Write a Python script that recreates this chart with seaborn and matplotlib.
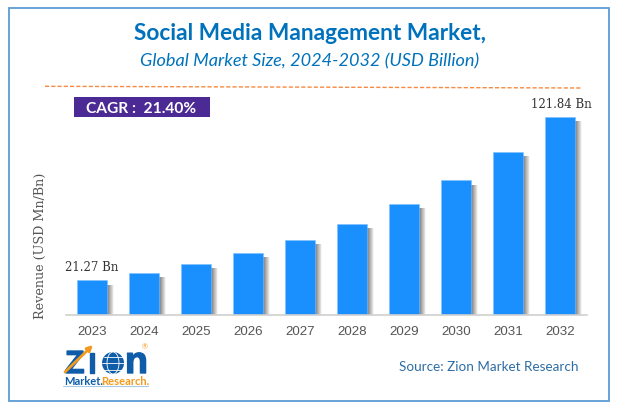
import seaborn as sns
import matplotlib.pyplot as plt
import matplotlib.patheffects as pe
import pandas as pd
from matplotlib.patches import Circle, Ellipse, Rectangle

years = ["2023", "2024", "2025", "2026", "2027", "2028", "2029", "2030", "2031", "2032"]
revenue = [21.27, 25.8, 31.3, 38.0, 46.2, 56.1, 68.2, 82.8, 100.4, 121.84]
labels = {"2023": "21.27 Bn", "2032": "121.84 Bn"}

W, H = 617, 411
BLUE = "#0072bc"
df = pd.DataFrame({"year": years, "revenue": revenue})

sns.set_theme(style="white")
fig = plt.figure(figsize=(W / 100, H / 100), dpi=100)

# bar area, placed in pixels
left, right, top, bottom = 66, 587, 117, 315
ax = fig.add_axes([left / W, 1 - bottom / H, (right - left) / W, (bottom - top) / H])
sns.barplot(data=df, x="year", y="revenue", color="#1a90ff", saturation=1, width=0.577, ax=ax)
ax.set_xlim(-0.5, 9.52)
ax.set_ylim(0, 121.84)
ax.set_yticks([])
ax.set_xlabel("")
ax.set_ylabel("")
ax.tick_params(axis="x", length=0, pad=8, labelsize=9.6, labelcolor="#555555")
for t in ax.get_xticklabels():
    t.set_fontfamily("Liberation Sans")
sns.despine(ax=ax, left=True)
ax.spines["bottom"].set_color("#d0d0d0")
ax.spines["bottom"].set_linewidth(1.2)

# soft shadow on the right of each bar, darker close to the bar
shadow = [pe.SimplePatchShadow(offset=(d, -3), shadow_rgbFace="#333333", alpha=a)
          for d, a in [(5.2, 0.04), (4.6, 0.06), (4, 0.08), (3.4, 0.1), (2.8, 0.12),
                       (2.2, 0.14), (1.6, 0.16), (1, 0.18)]]
for bar in ax.patches:
    bar.set_path_effects(shadow + [pe.Normal()])
    bar.set_edgecolor("#7fc0ff")
    bar.set_linewidth(0.4)

for bar, year in zip(ax.patches, years):
    if year in labels:
        ax.annotate(labels[year], (bar.get_x() + bar.get_width() / 2, bar.get_height()),
                    xytext=(1 if year == "2032" else 0, 4.5), textcoords="offset points", ha="center",
                    va="bottom", fontsize=8.5, color="#333333", family="DejaVu Serif", annotation_clip=False)

# overlay in pixel coordinates for frame, titles and logo
ov = fig.add_axes([0, 0, 1, 1], zorder=-1)
ov.set_xlim(0, W)
ov.set_ylim(H, 0)
ov.axis("off")
ov.add_patch(Rectangle((8.7, 8.5), 600, 392.5, fill=False, edgecolor="#5b9bd5", linewidth=1.3))
ov.text(310, 34, "Social Media Management Market,", ha="center", va="center", fontsize=16.3,
        fontweight="bold", color=BLUE, family="Lato")
ov.text(310, 61, "Global Market Size, 2024-2032 (USD Billion)", ha="center", va="center", fontsize=13.1,
        style="italic", color=BLUE, family="Lato")
ov.plot([45, 581], [86.3, 88], color="#f58a42", linewidth=1, linestyle=(0, (3, 1.5)))
ov.add_patch(Rectangle((74, 97), 135.5, 23, facecolor="#4b2a96", edgecolor="none"))
ov.text(141, 109, "CAGR :  21.40%", ha="center", va="center", fontsize=11.2, fontweight="bold",
        color="white", family="Lato")
ov.text(40, 246, "Revenue (USD Mn/Bn)", rotation=90, ha="center", va="center", fontsize=9.2,
        color="#555555", family="DejaVu Serif")
ov.text(489, 367, "Source: Zion Market Research", ha="center", va="center", fontsize=9.7,
        color="#2e6da4", family="Lato")

# logo
LOGO = "#0f5ca8"
ORANGE = "#f39a1e"
thick = [pe.withStroke(linewidth=1, foreground=LOGO)]
ov.text(65, 373, "Z", ha="left", va="baseline", fontsize=23, fontweight="bold", color=LOGO,
        family="Liberation Sans", path_effects=thick)
ov.text(88, 373, "I", ha="left", va="baseline", fontsize=21, fontweight="bold", color=LOGO,
        family="Liberation Sans", path_effects=thick)
ov.add_patch(Circle((113, 363), 11, facecolor=LOGO, edgecolor="none"))
ov.add_patch(Ellipse((113, 363), 12, 22, fill=False, edgecolor="white", linewidth=0.6))
ov.plot([102, 124], [363, 363], color="white", linewidth=0.6)
ov.plot([104, 122], [356.5, 356.5], color="white", linewidth=0.6)
ov.plot([104, 122], [369.5, 369.5], color="white", linewidth=0.6)
ov.text(125, 373, "n", ha="left", va="baseline", fontsize=27, fontweight="bold", color=LOGO,
        family="Liberation Sans", path_effects=thick)
ov.annotate("", xy=(93, 345), xytext=(65, 372),
            arrowprops=dict(arrowstyle="-|>", color=ORANGE, linewidth=2, mutation_scale=8, shrinkA=0, shrinkB=0))
ov.text(145, 347, "®", ha="center", va="center", fontsize=5, color=ORANGE, family="Lato")
ov.text(64, 381, "Market.", ha="left", va="center", fontsize=8, fontweight="bold", color=LOGO, family="Lato")
ov.text(101, 381, "Research.", ha="left", va="center", fontsize=8, fontweight="bold", color=ORANGE, family="Lato")
ov.plot([63, 148], [385.5, 385.5], color="#a9cbe8", linewidth=0.8)

fig.savefig("out.png", dpi=100)
